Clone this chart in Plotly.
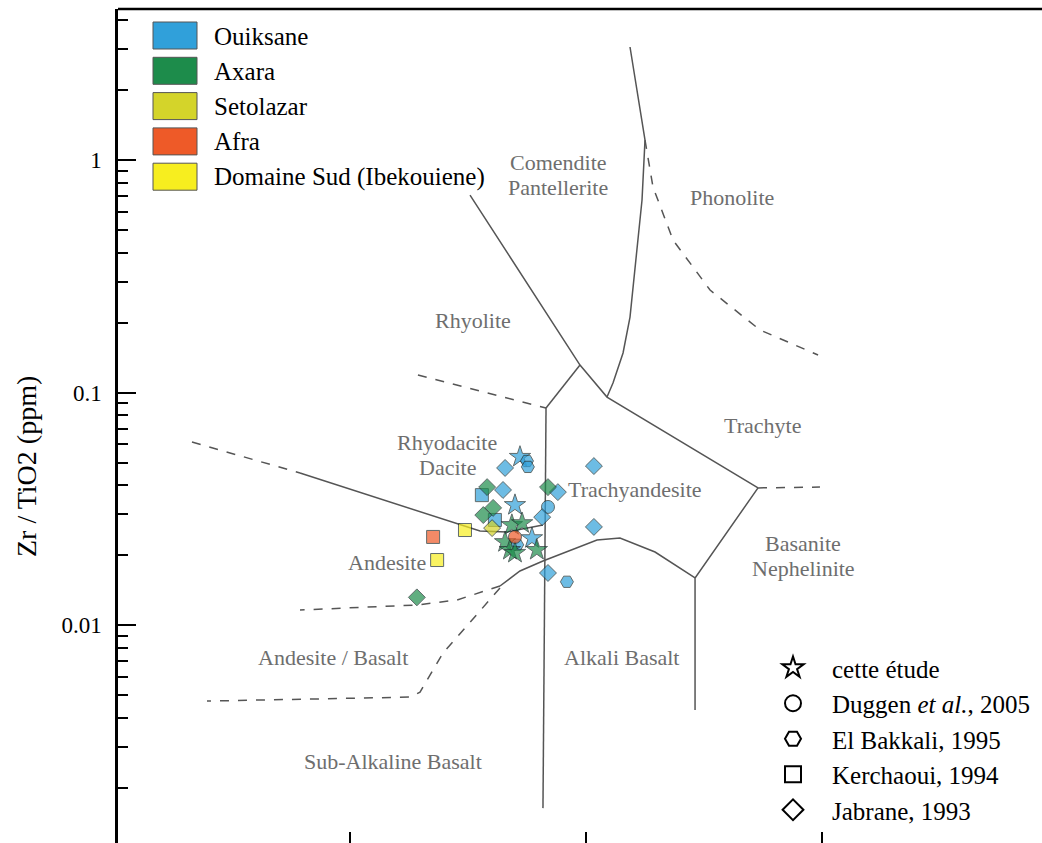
import numpy as np
import plotly.graph_objects as go

# ---------------- data (Nb/Y , Zr/TiO2) ----------------
localities = ["Ouiksane", "Axara", "Setolazar", "Afra", "Domaine Sud (Ibekouiene)"]
loc_colors = ["#30a0da", "#1d8c4b", "#d4d42a", "#ee5a28", "#f7ee1f"]

ouiksane_nby = [0.525, 0.562, 0.567, 0.454, 0.362, 0.445, 0.500, 0.411, 0.511, 0.590,
                0.760, 0.690, 0.652, 0.690, 0.830, 1.08, 1.08]
ouiksane_zr = [0.0530, 0.0509, 0.0480, 0.0475, 0.0363, 0.0382, 0.0329, 0.0284, 0.0222, 0.0237,
               0.0374, 0.0323, 0.0292, 0.0168, 0.0154, 0.0265, 0.0484]
ouiksane_src = ["star", "hexagon2", "hexagon2", "diamond", "square", "diamond", "star", "square",
                "hexagon2", "star", "diamond", "circle", "diamond", "diamond", "hexagon2",
                "diamond", "diamond"]

axara_nby = [0.381, 0.404, 0.367, 0.485, 0.536, 0.454, 0.476, 0.500, 0.619, 0.690, 0.192]
axara_zr = [0.0393, 0.0320, 0.0298, 0.0270, 0.0275, 0.0228, 0.0211, 0.0205, 0.0211, 0.0393, 0.0132]
axara_src = ["diamond", "diamond", "diamond", "star", "star", "star", "star", "star", "star",
             "diamond", "diamond"]

setolazar_nby = [0.400]
setolazar_zr = [0.0262]
setolazar_src = ["diamond"]

afra_nby = [0.225, 0.500]
afra_zr = [0.0240, 0.0240]
afra_src = ["square", "circle"]

sud_nby = [0.307, 0.234]
sud_zr = [0.0257, 0.0191]
sud_src = ["square", "square"]

sources = ["cette étude", "Duggen <i>et al.</i>, 2005", "El Bakkali, 1995", "Kerchaoui, 1994", "Jabrane, 1993"]
source_symbols = ["star", "circle", "hexagon2", "square", "diamond"]

# ---------------- classification boundaries (Winchester & Floyd) ----------------
boundaries = [
    # (Nb/Y list, Zr/TiO2 list, dashed?)
    ([0.3225, 0.943, 1.227, 5.355], [0.707, 0.1315, 0.0958, 0.0390], False),
    ([0.943, 0.677], [0.1315, 0.0859], False),
    ([0.194, 0.677], [0.1191, 0.0859], True),
    ([0.677, 0.657], [0.0859, 0.00164], False),
    ([1.536, 1.778, 1.727, 1.613, 1.536, 1.435, 1.301, 1.227],
     [3.06, 1.219, 0.673, 0.347, 0.2115, 0.1482, 0.110, 0.0958], False),
    ([1.778, 1.922, 2.337, 3.353, 5.46, 9.62], [1.219, 0.7655, 0.453, 0.2763, 0.186, 0.1452], True),
    ([5.355, 9.8], [0.0390, 0.0393], True),
    ([5.355, 2.897, 2.897], [0.0390, 0.01599, 0.00433], False),
    ([2.897, 1.961, 1.393, 1.113, 0.657, 0.525, 0.432],
     [0.01599, 0.02067, 0.02374, 0.02328, 0.01891, 0.01714, 0.01477], False),
    ([0.432, 0.284, 0.192, 0.0614], [0.01477, 0.01286, 0.01224, 0.01165], True),
    ([0.432, 0.2477, 0.198, 0.1796, 0.02478], [0.01447, 0.00761, 0.00517, 0.00492, 0.00473], True),
    ([0.0214, 0.0614], [0.0614, 0.0452], True),
    ([0.0614, 0.3555, 0.4627, 0.657], [0.0452, 0.02544, 0.0252, 0.0270], False),
]

region_labels = ["Comendite", "Pantellerite", "Phonolite", "Rhyolite", "Trachyte", "Rhyodacite", "Dacite",
                 "Trachyandesite", "Andesite", "Basanite", "Nephelinite", "Andesite / Basalt",
                 "Alkali Basalt", "Sub-Alkaline Basalt"]
label_nby = [0.761, 0.761, 4.16, 0.332, 5.57, 0.258, 0.258, 1.613, 0.1435, 8.31, 8.31, 0.0847, 1.42, 0.152]
label_zr = [0.980, 0.759, 0.693, 0.205, 0.0726, 0.0614, 0.0475, 0.0382, 0.0187, 0.0226, 0.0176,
            0.00731, 0.00731, 0.00259]

y_ticks = [0.01, 0.1, 1]
y_ticktext = ["0.01", "0.1", "1"]
y_minor = [m * 10.0 ** e for e in (-3, -2, -1, 0) for m in range(2, 10)]
x_ticks = [0.1, 1, 10]

# ---------------- layout constants ----------------
W, H = 1042, 843
ML, MR, MT, MB = 118, 0, 9, 0
PW, PH = W - ML - MR, H - MT - MB
FONT = "Liberation Serif"


def px(x):
    return (x - ML) / PW


def py(y):
    return (H - MB - y) / PH


fig = go.Figure()

for xs, ys, dashed in boundaries:
    fig.add_trace(go.Scatter(x=xs, y=ys, mode="lines", showlegend=False, hoverinfo="skip",
                             line=dict(color="#555555", width=1.5, dash="dash" if dashed else "solid")))

groups = [
    (ouiksane_nby, ouiksane_zr, ouiksane_src),
    (axara_nby, axara_zr, axara_src),
    (setolazar_nby, setolazar_zr, setolazar_src),
    (afra_nby, afra_zr, afra_src),
    (sud_nby, sud_zr, sud_src),
]
for (xs, ys, src), name, col in zip(groups, localities, loc_colors):
    sizes = [16 if s == "star" else 13 for s in src]
    fig.add_trace(go.Scatter(x=xs, y=ys, mode="markers", name=name, showlegend=False,
                             marker=dict(symbol=src, size=sizes, color=col,
                                         line=dict(color="#1e2e2e", width=1))))

for i, (name, sym) in enumerate(zip(sources, source_symbols)):
    fig.add_trace(go.Scatter(x=[None], y=[None], mode="markers", name=name, legendgroup=str(i),
                             marker=dict(symbol=sym + "-open", size=16, color="black",
                                         line=dict(color="black", width=2))))

# region labels
for t, xv, yv in zip(region_labels, label_nby, label_zr):
    fig.add_annotation(x=np.log10(xv), y=np.log10(yv), xref="x", yref="y", text=t, showarrow=False,
                       font=dict(family=FONT, size=22, color="#6e6e6e"), xanchor="center", yanchor="middle")

# colour legend (boxes + labels)
for i, (name, col) in enumerate(zip(localities, loc_colors)):
    top = 22 + 35.3 * i
    fig.add_shape(type="rect", xref="paper", yref="paper", x0=px(153), x1=px(197),
                  y0=py(top + 27), y1=py(top), fillcolor=col, line=dict(color="#555555", width=1))
    fig.add_annotation(xref="paper", yref="paper", x=px(212), y=py(top + 14), text=name, showarrow=False,
                       xanchor="left", yanchor="middle", font=dict(family=FONT, size=25, color="black"))

# top frame line
fig.add_shape(type="line", xref="paper", yref="paper", x0=0, x1=1, y0=1, y1=1,
              line=dict(color="black", width=2.5))

# y-axis title
fig.add_annotation(xref="paper", yref="paper", x=px(26), y=py(467), text="Zr / TiO2 (ppm)",
                   textangle=-90, showarrow=False, xanchor="center", yanchor="middle",
                   font=dict(family=FONT, size=28, color="black"))

fig.update_layout(
    width=W, height=H, margin=dict(l=ML, r=MR, t=MT, b=MB),
    paper_bgcolor="white", plot_bgcolor="white",
    font=dict(family=FONT, color="black"),
    legend=dict(x=px(754), y=py(645), xanchor="left", yanchor="top", bgcolor="rgba(0,0,0,0)",
                font=dict(family=FONT, size=25, color="black"), tracegroupgap=0, itemwidth=68),
    xaxis=dict(type="log", range=[-1.983, 1.932], showgrid=False, zeroline=False, showline=False,
               tickvals=x_ticks, showticklabels=False, ticks="inside", ticklen=11, tickwidth=1.5,
               tickcolor="black"),
    yaxis=dict(type="log", range=[-2.935, 0.649], showgrid=False, zeroline=False, showline=True,
               linecolor="black", linewidth=2.5, tickvals=y_ticks, ticktext=y_ticktext,
               ticks="inside", ticklen=18, tickwidth=2, tickcolor="black",
               tickfont=dict(family=FONT, size=23, color="black"), ticklabelstandoff=9,
               minor=dict(tickmode="array", tickvals=y_minor, ticks="inside", ticklen=10,
                          tickwidth=1.5, tickcolor="black", showgrid=False)),
)

fig.write_html("out.html", config={"displayModeBar": False},
               post_script="document.body.style.margin='0';document.body.style.padding='0';")
